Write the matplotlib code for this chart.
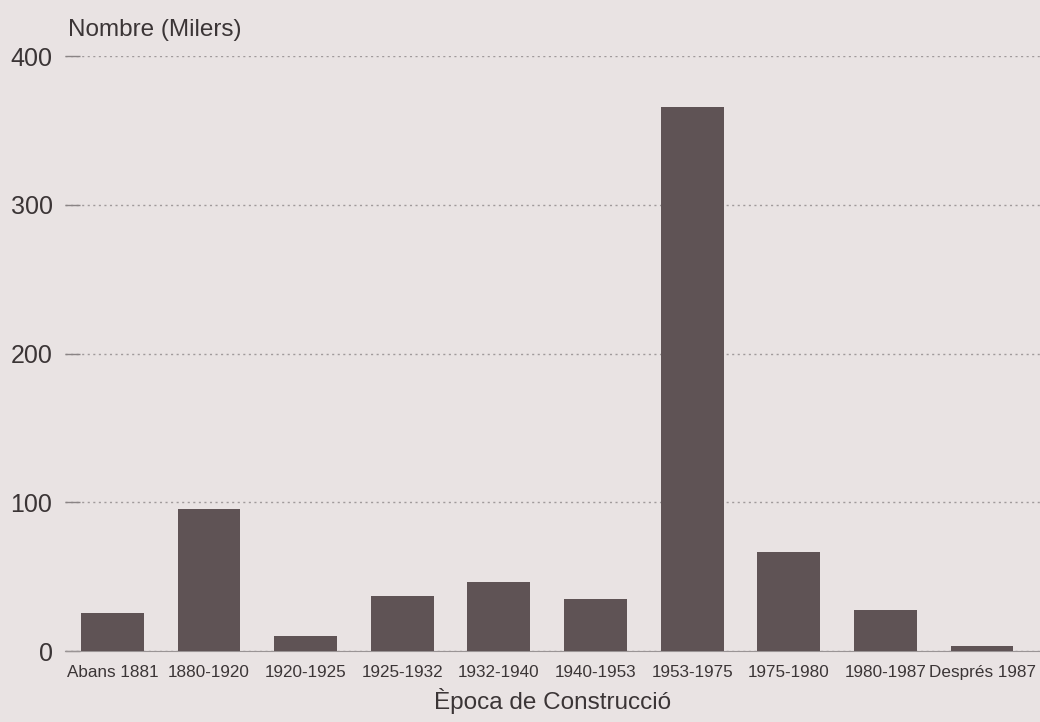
import matplotlib
matplotlib.use("Agg")
import matplotlib.pyplot as plt

periods = ['Abans 1881', '1880-1920', '1920-1925', '1925-1932', '1932-1940',
           '1940-1953', '1953-1975', '1975-1980', '1980-1987', 'Després 1987']
values = [25.5, 95.5, 10, 37, 46.5, 35, 366, 66.5, 27.5, 3.4]

bg = '#e9e3e3'
bar_color = '#5f5355'
txt = '#3b3536'

plt.rcParams['font.family'] = ['Liberation Sans', 'DejaVu Sans']

fig = plt.figure(figsize=(10.4, 7.22), dpi=100, facecolor=bg)
ax = fig.add_axes([0.0625, 0.0983, 0.9375, 0.8241], facecolor=bg)

ax.bar(range(len(periods)), values, width=0.65, color=bar_color, zorder=3)

ax.set_ylim(0, 400)
ax.set_xlim(-0.49, 9.6)
ax.set_yticks([0, 100, 200, 300, 400])
ax.set_xticks(range(len(periods)))
ax.set_xticklabels(periods, fontsize=12.3, color=txt)
ax.tick_params(axis='y', labelsize=18, colors=txt, direction='in', length=11,
               width=1, color='#8a8485', pad=9)
ax.tick_params(axis='x', length=0, pad=10)

ax.yaxis.grid(True, linestyle=(0, (1.5, 2.5)), color='#a09a9b', linewidth=1.0, zorder=0)

for s in ['top', 'right', 'left']:
    ax.spines[s].set_visible(False)
ax.spines['bottom'].set_color('#9a9495')

ax.set_xlabel('Època de Construcció', fontsize=17.5, color=txt, labelpad=6)
fig.text(0.065, 0.958, 'Nombre (Milers)', fontsize=17.5, color=txt, va='center')

fig.savefig('out.png', dpi=100, facecolor=bg)
